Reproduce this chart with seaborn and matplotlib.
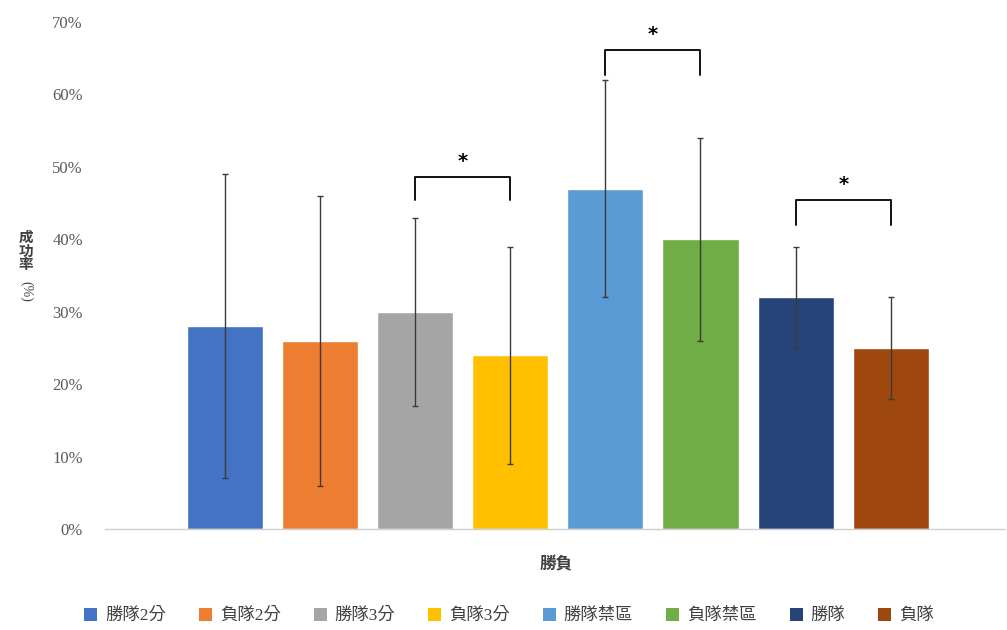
import matplotlib
matplotlib.use("Agg")
import matplotlib.pyplot as plt
from matplotlib.ticker import FuncFormatter
from matplotlib.patches import Patch
import seaborn as sns
import pandas as pd
import numpy as np

# Success rate per group (fractions) with error bar bounds
groups = ["勝隊2分", "負隊2分", "勝隊3分", "負隊3分", "勝隊禁區", "負隊禁區", "勝隊", "負隊"]
rates = [0.28, 0.26, 0.30, 0.24, 0.47, 0.40, 0.32, 0.25]
err_low = [0.07, 0.06, 0.17, 0.09, 0.32, 0.26, 0.25, 0.18]
err_high = [0.49, 0.46, 0.43, 0.39, 0.62, 0.54, 0.39, 0.32]
colors = ["#4472C4", "#ED7D31", "#A5A5A5", "#FFC000", "#5B9BD5", "#70AD47", "#264478", "#9E480E"]
category = "勝負"
# Significance brackets: (left group index, right group index, bracket top, leg bottom)
brackets = [(2, 3, 0.486, 0.454), (4, 5, 0.662, 0.627), (6, 7, 0.454, 0.420)]
yticks = [0.0, 0.1, 0.2, 0.3, 0.4, 0.5, 0.6, 0.7]

sns.set_theme(style="white")
plt.rcParams["font.family"] = ["Liberation Serif", "Noto Sans CJK TC", "DejaVu Sans"]

df = pd.DataFrame({"cat": [category] * len(groups), "group": groups, "rate": rates})

fig = plt.figure(figsize=(10.07, 6.30), dpi=100)
ax = fig.add_axes([105 / 1007, 1 - 529 / 630, 900 / 1007, (529 - 22) / 630])

sns.barplot(data=df, x="cat", y="rate", hue="group", hue_order=groups,
            palette=colors, width=0.846, gap=0.2, dodge=True, ax=ax,
            legend=False, saturation=1)

bars = sorted(ax.patches, key=lambda p: p.get_x())
centers = [p.get_x() + p.get_width() / 2 for p in bars]
heights = [p.get_height() for p in bars]

yerr = np.array([[h - lo for h, lo in zip(heights, err_low)],
                 [hi - h for h, hi in zip(heights, err_high)]])
ax.errorbar(centers, heights, yerr=yerr, fmt="none", ecolor="#3a3a3a",
            elinewidth=1.0, capsize=2.5, capthick=1.0, zorder=3)

for i, j, top, leg in brackets:
    x0, x1 = centers[i], centers[j]
    ax.plot([x0, x0, x1, x1], [leg, top, top, leg], color="#111111", lw=1.4,
            solid_joinstyle="round", zorder=4)
    ax.text((x0 + x1) / 2, top + 0.008, "*", ha="center", va="bottom",
            fontsize=14, fontweight="bold", color="black", family="DejaVu Sans")

ax.set_xlim(-0.503, 0.497)
ax.set_ylim(0, 0.70)
ax.set_yticks(yticks)
ax.yaxis.set_major_formatter(FuncFormatter(lambda v, _: f"{v * 100:.0f}%"))
ax.tick_params(axis="y", length=0, labelsize=12, labelcolor="#595959", pad=16)
ax.set_xticks([])
ax.set_xlabel("")
ax.set_ylabel("")
for side in ["top", "right", "left"]:
    ax.spines[side].set_visible(False)
ax.spines["bottom"].set_color("#d0d0d0")
ax.spines["bottom"].set_linewidth(1.0)

# Axis titles
fig.text(556 / 1007, 1 - 565 / 630, category, ha="center", va="center",
         fontsize=12, color="#404040", fontweight="bold")
fig.text(26 / 1007, 1 - 252 / 630, "成\n功\n率", ha="center", va="center",
         fontsize=10.5, color="#404040", linespacing=1.05, fontweight="bold")
fig.text(26 / 1007, 1 - 291 / 630, "(%)", ha="center", va="center",
         fontsize=10, color="#404040", rotation=270)

handles = [Patch(facecolor=c, edgecolor="none") for c in colors]
fig.legend(handles, groups, loc="center", bbox_to_anchor=(509 / 1007, 1 - 616 / 630),
           ncol=8, frameon=False, fontsize=12.5, handlelength=0.75, handleheight=0.75,
           handletextpad=0.45, columnspacing=1.9, labelcolor="#404040")

fig.savefig("out.png", dpi=100, facecolor="white")
